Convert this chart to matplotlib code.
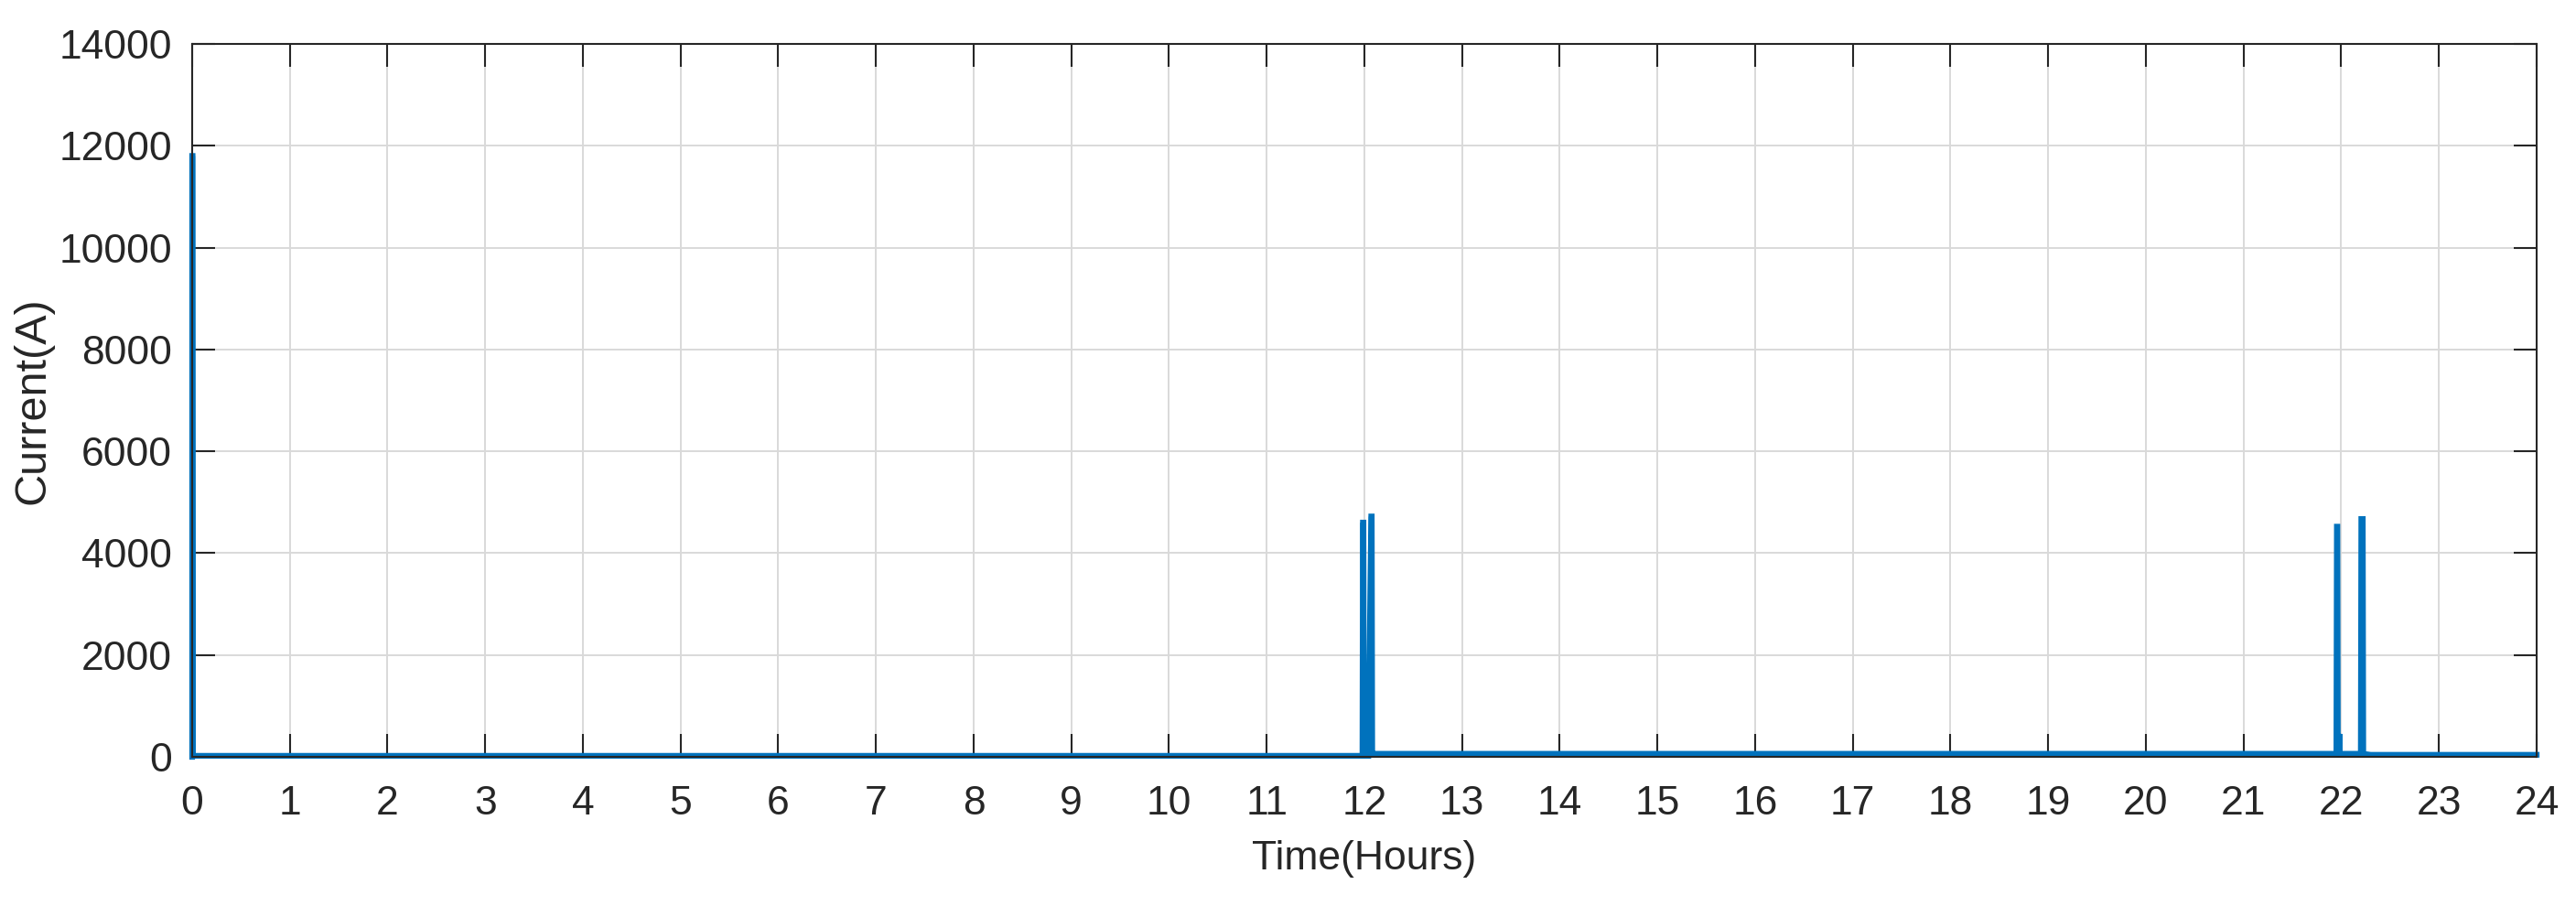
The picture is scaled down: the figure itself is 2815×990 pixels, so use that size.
import matplotlib
matplotlib.use("Agg")
import matplotlib.pyplot as plt

plt.rcParams['font.family'] = ['Liberation Sans', 'DejaVu Sans']

# Time (hours) and current (A) samples
time_h = [0.0, 0.0, 0.004, 0.008, 3.9, 4.6, 5.0, 5.5, 10.5, 11.6, 11.98,
          11.985, 11.99, 11.995, 12.04, 12.07, 12.075, 12.08, 12.1, 17.0,
          21.95, 21.955, 21.96, 21.965, 21.975, 21.98, 21.985, 22.20,
          22.205, 22.22, 22.225, 22.3, 24.0]
current_a = [0, 11800, 11800, 20, 20, 20, 20, 20, 20, 20, 20,
             4600, 4600, 20, 20, 4720, 4720, 60, 60, 60,
             60, 4520, 4520, 60, 60, 450, 60, 60,
             4670, 4670, 60, 40, 40]

x_ticks = list(range(0, 25))
y_ticks = [0, 2000, 4000, 6000, 8000, 10000, 12000, 14000]

fig = plt.figure(figsize=(28.15, 9.9), dpi=100)
ax = fig.add_axes([210/2815, 1 - 827/990, (2772-210)/2815, (827-48)/990])

ax.plot(time_h, current_a, color='#0072BD', linewidth=4.5, solid_joinstyle='miter', clip_on=False)

ax.set_xlim(0, 24)
ax.set_ylim(0, 14000)
ax.set_xticks(x_ticks)
ax.set_yticks(y_ticks)
ax.grid(True, color='#D9D9D9', linewidth=1.4)
ax.set_axisbelow(True)
ax.tick_params(direction='in', length=18, width=1.5, top=True, right=True,
               labelsize=32, colors='#262626')
ax.tick_params(axis='x', pad=22)
ax.tick_params(axis='y', pad=16)
for s in ax.spines.values():
    s.set_linewidth(1.5)
    s.set_color('#262626')

ax.set_xlabel('Time(Hours)', fontsize=32, color='#262626', labelpad=14)
ax.set_ylabel('Current(A)', fontsize=35, color='#262626', labelpad=4)

fig.savefig('out.png', dpi=100, facecolor='white')
